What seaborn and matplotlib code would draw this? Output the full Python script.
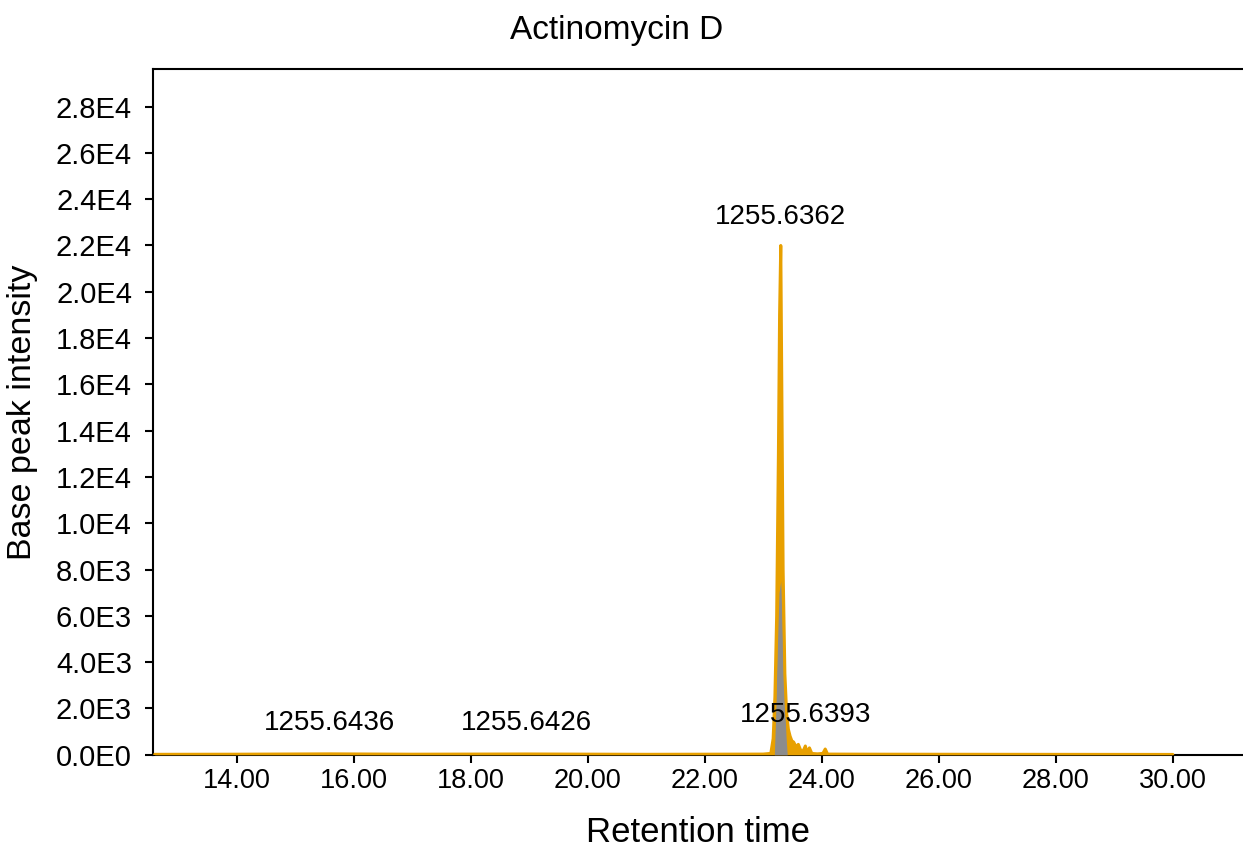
import numpy as np
import pandas as pd
import matplotlib
matplotlib.use("Agg")
import matplotlib.pyplot as plt
import seaborn as sns

# chromatogram trace (retention time, base peak intensity)
rt = [12.60, 14.00, 15.60, 17.00, 18.95, 21.00, 23.00, 23.13, 23.17, 23.20,
      23.23, 23.26, 23.28, 23.30, 23.32, 23.34, 23.37, 23.40, 23.43, 23.46,
      23.49, 23.52, 23.56, 23.60, 23.64, 23.68, 23.72, 23.75, 23.79, 23.83,
      23.87, 23.93, 24.02, 24.06, 24.10, 25.00, 27.00, 30.00]
intensity = [20, 25, 40, 25, 35, 20, 30, 60, 700, 2500,
             6000, 13000, 19000, 22000, 15000, 8000, 3500, 1800, 1100, 800,
             600, 550, 350, 450, 200, 150, 380, 90, 300, 60,
             50, 40, 60, 250, 30, 25, 20, 15]

# integrated trace (grey area)
grey_rt = [23.19, 23.21, 23.24, 23.27, 23.30, 23.33, 23.36, 23.39, 23.41]
grey_int = [0, 1500, 4500, 7000, 7500, 5000, 2500, 800, 0]

# peak labels
label_text = ["1255.6436", "1255.6426", "1255.6362", "1255.6393"]
label_rt = [15.59, 18.95, 23.30, 23.73]
label_y = [1380, 1380, 23250, 1730]

df = pd.DataFrame({"Retention time": rt, "Base peak intensity": intensity})

sns.set_style("ticks")
plt.rcParams["font.family"] = ["Liberation Sans", "DejaVu Sans"]
plt.rcParams["text.color"] = "black"

orange = "#E8A000"

fig = plt.figure(figsize=(12.43, 8.5), dpi=100)
ax = fig.add_axes([0.123, 0.112, 0.877, 0.807])

ax.fill_between(rt, intensity, color=orange, lw=0, zorder=2)
ax.fill_between(grey_rt, grey_int, color="#8c8c8c", lw=0, zorder=3)
sns.lineplot(data=df, x="Retention time", y="Base peak intensity", ax=ax,
             color=orange, lw=2.2, zorder=4)

for s, xx, yy in zip(label_text, label_rt, label_y):
    ax.text(xx, yy, s, ha="center", va="center", fontsize=20, color="black",
            zorder=5)

ax.set_xlim(12.569, 31.20)
ax.set_ylim(0, 29630)
ax.set_xticks(np.arange(14, 31, 2))
ax.set_xticklabels([f"{v:.2f}" for v in np.arange(14, 31, 2)])
yt = np.arange(0, 28001, 2000)


def sci(v):
    if v == 0:
        return "0.0E0"
    e = int(np.floor(np.log10(v)))
    return f"{v / 10 ** e:.1f}E{e}"


ax.set_yticks(yt)
ax.set_yticklabels([sci(v) for v in yt])
ax.tick_params(axis="both", length=6, width=1.5, colors="black",
               labelcolor="black", direction="out")
ax.tick_params(axis="x", labelsize=19.5)
ax.tick_params(axis="y", labelsize=21, pad=9)
for side in ["left", "bottom", "top"]:
    ax.spines[side].set_linewidth(1.5)
    ax.spines[side].set_color("black")
    ax.spines[side].set_zorder(1)
ax.spines["right"].set_visible(False)

ax.set_xlabel("Retention time", fontsize=25, labelpad=16, color="black")
ax.set_ylabel("Base peak intensity", fontsize=24.5, labelpad=13, color="black")
fig.text(0.496, 0.964, "Actinomycin D", ha="center", va="center", fontsize=24,
         color="black")

fig.savefig("out.png", dpi=100)
